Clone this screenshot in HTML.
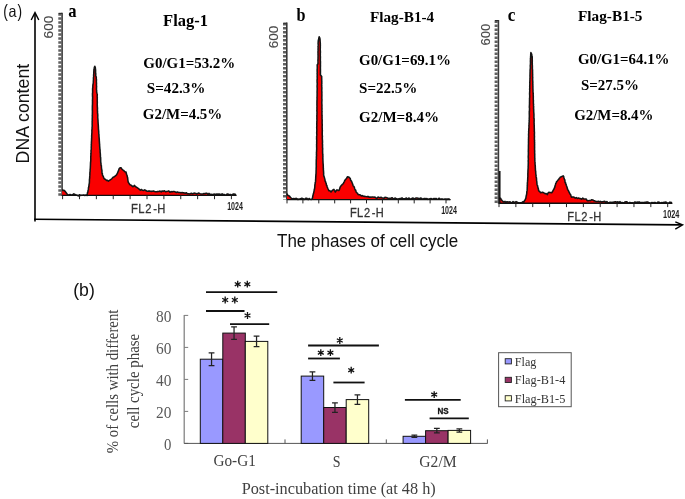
<!DOCTYPE html>
<html><head><meta charset="utf-8"><style>
html,body{margin:0;padding:0;background:#fff;}
svg{display:block;will-change:transform;}
</style></head><body>
<svg width="685" height="499" viewBox="0 0 685 499">
<rect width="685" height="499" fill="#fff"/>
<text font-family="Liberation Sans" fill="#111"><tspan x="3.3" y="17" font-size="18" textLength="4.6" lengthAdjust="spacingAndGlyphs">(</tspan><tspan x="8.6" y="17.4" font-size="16.5" textLength="8" lengthAdjust="spacingAndGlyphs">a</tspan><tspan x="17.6" y="17" font-size="18" textLength="4.6" lengthAdjust="spacingAndGlyphs">)</tspan></text>
<line x1="35" y1="13" x2="35" y2="221.6" stroke="#000" stroke-width="1.6"/>
<polyline points="31.2,20 35,12.6 38.8,20" fill="none" stroke="#000" stroke-width="1.4"/>
<line x1="34.2" y1="219.2" x2="682" y2="224.9" stroke="#000" stroke-width="1.6"/>
<polyline points="675.3,221.8 682.6,224.9 675.3,229.2" fill="none" stroke="#000" stroke-width="1.4"/>
<text transform="translate(29.4,113.6) rotate(-90)" x="0" y="0" text-anchor="middle" font-family="Liberation Sans" font-size="17.5" font-weight="normal" fill="#111" textLength="99.6" lengthAdjust="spacingAndGlyphs" >DNA content</text>
<text x="277" y="247" font-family="Liberation Sans" font-size="17.5" font-weight="normal" fill="#111" textLength="181.3" lengthAdjust="spacingAndGlyphs" >The phases of cell cycle</text>
<line x1="59.800000000000004" y1="13.3" x2="59.800000000000004" y2="195.8" stroke="#606060" stroke-width="3.0" stroke-dasharray="2.50 1.5"/>
<line x1="62.1" y1="12.8" x2="62.1" y2="195.8" stroke="#3a3a3a" stroke-width="1.6"/>
<line x1="58.6" y1="13.4" x2="62.1" y2="13.4" stroke="#2e2e2e" stroke-width="1.2"/>
<text transform="translate(53.3,27.1) rotate(-90)" x="0" y="0" text-anchor="middle" font-family="Liberation Sans" font-size="13.2" font-weight="normal" fill="#4a4a4a" textLength="22.6" lengthAdjust="spacingAndGlyphs" stroke="#4a4a4a" stroke-width="0.15">600</text>
<text x="68.2" y="16.8" font-family="Liberation Serif" font-size="19" font-weight="bold" fill="#000" textLength="8.3" lengthAdjust="spacingAndGlyphs" >a</text>
<text x="163.1" y="26.2" font-family="Liberation Serif" font-size="16.5" font-weight="bold" fill="#000" textLength="44.9" lengthAdjust="spacingAndGlyphs" >Flag-1</text>
<text x="143.3" y="68.3" font-family="Liberation Serif" font-size="14" font-weight="bold" fill="#000" textLength="92" lengthAdjust="spacingAndGlyphs" >G0/G1=53.2%</text>
<text x="146.8" y="93.3" font-family="Liberation Serif" font-size="14" font-weight="bold" fill="#000" textLength="58.6" lengthAdjust="spacingAndGlyphs" >S=42.3%</text>
<text x="142.8" y="119.3" font-family="Liberation Serif" font-size="14" font-weight="bold" fill="#000" textLength="79.5" lengthAdjust="spacingAndGlyphs" >G2/M=4.5%</text>
<path d="M62.00,195.80 L62.20,189.60 L63.02,190.59 L64.06,190.26 L64.90,191.10 L65.80,192.18 L66.70,193.40 L67.88,194.70 L69.00,195.20 L70.08,194.44 L71.40,194.91 L72.50,194.90 L73.71,193.90 L74.80,194.30 L75.99,195.11 L77.20,195.30 L78.24,195.95 L79.48,194.69 L80.40,195.42 L81.69,195.22 L82.64,195.30 L83.70,195.04 L84.89,195.45 L85.94,195.10 L87.10,195.50 L87.26,194.34 L87.50,192.63 L87.83,192.28 L88.01,190.66 L88.20,190.00 L88.45,189.50 L88.42,187.77 L88.70,187.30 L88.89,185.89 L89.02,185.24 L89.06,184.12 L89.33,183.48 L89.40,182.00 L89.46,181.12 L89.42,179.64 L89.65,178.88 L89.58,178.07 L89.75,177.24 L89.74,175.91 L89.83,175.39 L89.89,173.85 L89.95,172.34 L89.92,172.28 L90.17,171.13 L90.11,169.54 L90.19,169.67 L90.31,168.06 L90.39,166.63 L90.38,166.63 L90.46,164.94 L90.50,164.00 L90.50,163.07 L90.69,161.31 L90.70,161.45 L90.76,160.34 L90.79,159.03 L90.79,157.90 L90.73,157.52 L90.88,155.58 L90.91,154.98 L90.93,153.78 L91.01,153.17 L91.07,151.94 L91.00,150.62 L91.07,150.12 L91.26,149.42 L91.30,148.44 L91.23,147.48 L91.36,145.42 L91.27,144.32 L91.47,143.65 L91.38,143.17 L91.48,141.40 L91.48,141.04 L91.60,140.00 L91.57,138.68 L91.72,137.94 L91.68,136.96 L91.66,135.84 L91.78,134.56 L91.76,134.56 L91.88,132.59 L91.94,132.44 L91.86,130.33 L91.93,130.31 L91.97,129.29 L92.12,128.06 L92.06,127.67 L92.22,126.02 L92.20,125.00 L92.15,124.21 L92.20,123.11 L92.20,122.18 L92.16,120.72 L92.36,120.53 L92.23,119.50 L92.24,118.62 L92.35,116.88 L92.26,115.31 L92.40,114.35 L92.40,114.65 L92.36,112.54 L92.43,112.66 L92.41,111.01 L92.35,109.79 L92.33,109.24 L92.39,107.57 L92.33,107.23 L92.39,106.00 L92.40,105.52 L92.54,103.33 L92.40,102.76 L92.58,102.40 L92.45,100.60 L92.50,100.00 L92.54,99.47 L92.61,97.78 L92.61,97.26 L92.53,96.68 L92.49,95.32 L92.46,93.54 L92.64,92.60 L92.62,92.14 L92.65,90.82 L92.55,89.71 L92.67,89.15 L92.60,88.00 L92.85,87.54 L92.82,86.07 L92.97,84.35 L93.20,84.00 L93.16,83.51 L93.36,82.46 L93.32,81.16 L93.46,79.83 L93.46,78.61 L93.41,77.67 L93.63,77.09 L93.69,75.94 L93.60,75.40 L93.77,73.32 L93.79,72.43 L93.80,72.00 L93.84,71.41 L93.95,69.39 L94.28,68.51 L94.30,67.50 L94.80,66.20 L95.30,67.50 L95.37,68.28 L95.60,70.00 L95.58,71.34 L95.58,72.58 L95.67,73.66 L95.82,73.71 L95.71,74.97 L95.80,76.00 L96.30,77.00 L96.24,78.21 L96.24,78.31 L96.46,79.71 L96.40,80.93 L96.36,81.39 L96.51,83.66 L96.54,83.46 L96.40,85.16 L96.58,86.06 L96.54,87.23 L96.47,88.06 L96.50,88.64 L96.47,89.69 L96.68,90.93 L96.60,92.00 L96.93,93.20 L97.20,94.00 L97.31,94.85 L97.18,95.76 L97.20,97.49 L97.33,97.72 L97.23,99.06 L97.29,100.13 L97.23,100.33 L97.25,101.40 L97.32,102.40 L97.24,104.19 L97.29,105.41 L97.35,106.51 L97.29,107.00 L97.44,107.41 L97.48,108.54 L97.40,110.00 L97.51,111.68 L97.57,111.75 L97.47,113.02 L97.69,113.71 L97.73,114.50 L97.79,115.34 L97.71,117.56 L97.80,118.00 L97.92,119.57 L97.99,120.34 L98.02,120.55 L98.03,121.52 L98.15,123.23 L98.11,123.39 L98.32,125.43 L98.29,126.06 L98.41,126.93 L98.40,128.00 L98.45,128.77 L98.49,129.33 L98.65,130.88 L98.70,131.39 L98.73,132.49 L98.75,133.66 L98.97,134.86 L98.96,136.16 L98.99,136.31 L99.13,138.00 L99.23,138.91 L99.31,140.32 L99.28,140.99 L99.41,141.62 L99.46,143.08 L99.64,144.58 L99.58,145.20 L99.70,146.00 L99.68,146.40 L99.85,148.53 L99.85,149.37 L100.07,149.74 L100.10,151.49 L100.11,152.28 L100.26,153.13 L100.35,154.56 L100.45,155.10 L100.35,155.65 L100.44,157.10 L100.62,157.37 L100.68,159.30 L100.68,160.02 L100.71,161.32 L100.76,162.67 L100.99,163.18 L101.00,164.00 L101.08,165.58 L101.35,165.49 L101.44,167.48 L101.54,168.28 L101.62,169.59 L101.86,169.84 L101.95,170.91 L101.95,171.76 L102.07,173.57 L102.37,173.47 L102.40,175.00 L102.95,175.87 L103.37,176.71 L103.92,178.35 L104.50,179.00 L105.40,179.32 L106.50,180.50 L107.44,180.18 L108.40,181.20 L110.00,180.00 L111.03,179.40 L112.00,178.50 L113.07,177.34 L114.00,177.00 L114.79,176.36 L115.62,175.72 L116.50,174.90 L116.90,174.11 L117.46,173.23 L117.95,171.81 L118.30,171.20 L118.81,169.75 L119.20,168.60 L120.08,167.85 L121.00,167.70 L121.82,169.03 L122.72,169.85 L123.70,170.40 L124.86,171.85 L126.00,172.00 L126.38,173.84 L126.57,174.35 L126.99,175.26 L127.30,176.70 L127.48,177.56 L127.67,178.12 L127.83,179.81 L127.98,180.80 L128.20,182.00 L128.86,183.19 L129.40,184.07 L130.00,184.80 L130.87,184.99 L131.70,185.69 L132.70,186.60 L133.52,186.53 L134.30,185.40 L135.22,186.22 L136.00,187.00 L137.17,187.68 L138.20,188.34 L139.20,189.20 L140.35,190.25 L141.36,189.47 L142.50,190.30 L143.63,190.44 L144.67,189.80 L145.78,190.50 L146.88,191.21 L148.02,191.13 L149.10,190.90 L150.28,191.31 L151.30,191.37 L152.43,191.30 L153.53,191.02 L154.63,191.40 L155.79,191.67 L156.87,191.71 L157.90,191.40 L159.05,191.55 L160.04,191.07 L161.21,191.92 L162.26,190.91 L163.41,191.38 L164.42,190.76 L165.51,191.74 L166.60,191.40 L167.68,191.27 L168.83,190.88 L169.90,192.25 L171.04,191.56 L172.14,191.92 L173.14,191.44 L174.38,191.60 L175.40,192.00 L176.41,192.55 L177.60,191.98 L178.70,192.58 L179.73,192.55 L180.94,192.86 L182.00,192.50 L183.04,192.79 L184.12,192.86 L185.19,193.32 L186.43,192.81 L187.38,193.84 L188.57,193.81 L189.51,194.02 L190.70,193.60 L191.76,193.34 L192.75,193.97 L193.86,193.17 L194.86,193.13 L195.97,193.52 L196.99,193.92 L197.96,193.27 L198.97,193.09 L200.00,193.60 L200.92,193.95 L201.97,194.05 L202.95,194.05 L204.05,193.51 L204.92,193.69 L206.00,193.32 L206.93,193.30 L208.02,194.52 L208.94,193.37 L210.04,194.51 L211.10,194.27 L211.97,194.63 L212.92,194.48 L213.91,194.11 L215.00,194.30 L216.00,194.15 L216.93,193.97 L218.07,194.32 L219.02,193.99 L220.05,194.18 L221.02,195.02 L222.10,193.83 L223.06,194.99 L223.96,194.35 L225.02,195.12 L225.98,195.09 L227.05,194.10 L228.09,193.93 L228.93,194.86 L229.91,194.49 L230.92,194.63 L232.07,195.27 L232.90,194.11 L234.07,194.11 L234.95,194.24 L236.00,194.80 L236.20,195.80 Z" fill="#fa0000" stroke="none"/>
<path d="M62.20,189.60 L63.02,190.59 L64.06,190.26 L64.90,191.10 L65.80,192.18 L66.70,193.40 L67.88,194.70 L69.00,195.20 L70.08,194.44 L71.40,194.91 L72.50,194.90 L73.71,193.90 L74.80,194.30 L75.99,195.11 L77.20,195.30 L78.24,195.95 L79.48,194.69 L80.40,195.42 L81.69,195.22 L82.64,195.30 L83.70,195.04 L84.89,195.45 L85.94,195.10 L87.10,195.50 L87.26,194.34 L87.50,192.63 L87.83,192.28 L88.01,190.66 L88.20,190.00 L88.45,189.50 L88.42,187.77 L88.70,187.30 L88.89,185.89 L89.02,185.24 L89.06,184.12 L89.33,183.48 L89.40,182.00 L89.46,181.12 L89.42,179.64 L89.65,178.88 L89.58,178.07 L89.75,177.24 L89.74,175.91 L89.83,175.39 L89.89,173.85 L89.95,172.34 L89.92,172.28 L90.17,171.13 L90.11,169.54 L90.19,169.67 L90.31,168.06 L90.39,166.63 L90.38,166.63 L90.46,164.94 L90.50,164.00 L90.50,163.07 L90.69,161.31 L90.70,161.45 L90.76,160.34 L90.79,159.03 L90.79,157.90 L90.73,157.52 L90.88,155.58 L90.91,154.98 L90.93,153.78 L91.01,153.17 L91.07,151.94 L91.00,150.62 L91.07,150.12 L91.26,149.42 L91.30,148.44 L91.23,147.48 L91.36,145.42 L91.27,144.32 L91.47,143.65 L91.38,143.17 L91.48,141.40 L91.48,141.04 L91.60,140.00 L91.57,138.68 L91.72,137.94 L91.68,136.96 L91.66,135.84 L91.78,134.56 L91.76,134.56 L91.88,132.59 L91.94,132.44 L91.86,130.33 L91.93,130.31 L91.97,129.29 L92.12,128.06 L92.06,127.67 L92.22,126.02 L92.20,125.00 L92.15,124.21 L92.20,123.11 L92.20,122.18 L92.16,120.72 L92.36,120.53 L92.23,119.50 L92.24,118.62 L92.35,116.88 L92.26,115.31 L92.40,114.35 L92.40,114.65 L92.36,112.54 L92.43,112.66 L92.41,111.01 L92.35,109.79 L92.33,109.24 L92.39,107.57 L92.33,107.23 L92.39,106.00 L92.40,105.52 L92.54,103.33 L92.40,102.76 L92.58,102.40 L92.45,100.60 L92.50,100.00 L92.54,99.47 L92.61,97.78 L92.61,97.26 L92.53,96.68 L92.49,95.32 L92.46,93.54 L92.64,92.60 L92.62,92.14 L92.65,90.82 L92.55,89.71 L92.67,89.15 L92.60,88.00 L92.85,87.54 L92.82,86.07 L92.97,84.35 L93.20,84.00 L93.16,83.51 L93.36,82.46 L93.32,81.16 L93.46,79.83 L93.46,78.61 L93.41,77.67 L93.63,77.09 L93.69,75.94 L93.60,75.40 L93.77,73.32 L93.79,72.43 L93.80,72.00 L93.84,71.41 L93.95,69.39 L94.28,68.51 L94.30,67.50 L94.80,66.20 L95.30,67.50 L95.37,68.28 L95.60,70.00 L95.58,71.34 L95.58,72.58 L95.67,73.66 L95.82,73.71 L95.71,74.97 L95.80,76.00 L96.30,77.00 L96.24,78.21 L96.24,78.31 L96.46,79.71 L96.40,80.93 L96.36,81.39 L96.51,83.66 L96.54,83.46 L96.40,85.16 L96.58,86.06 L96.54,87.23 L96.47,88.06 L96.50,88.64 L96.47,89.69 L96.68,90.93 L96.60,92.00 L96.93,93.20 L97.20,94.00 L97.31,94.85 L97.18,95.76 L97.20,97.49 L97.33,97.72 L97.23,99.06 L97.29,100.13 L97.23,100.33 L97.25,101.40 L97.32,102.40 L97.24,104.19 L97.29,105.41 L97.35,106.51 L97.29,107.00 L97.44,107.41 L97.48,108.54 L97.40,110.00 L97.51,111.68 L97.57,111.75 L97.47,113.02 L97.69,113.71 L97.73,114.50 L97.79,115.34 L97.71,117.56 L97.80,118.00 L97.92,119.57 L97.99,120.34 L98.02,120.55 L98.03,121.52 L98.15,123.23 L98.11,123.39 L98.32,125.43 L98.29,126.06 L98.41,126.93 L98.40,128.00 L98.45,128.77 L98.49,129.33 L98.65,130.88 L98.70,131.39 L98.73,132.49 L98.75,133.66 L98.97,134.86 L98.96,136.16 L98.99,136.31 L99.13,138.00 L99.23,138.91 L99.31,140.32 L99.28,140.99 L99.41,141.62 L99.46,143.08 L99.64,144.58 L99.58,145.20 L99.70,146.00 L99.68,146.40 L99.85,148.53 L99.85,149.37 L100.07,149.74 L100.10,151.49 L100.11,152.28 L100.26,153.13 L100.35,154.56 L100.45,155.10 L100.35,155.65 L100.44,157.10 L100.62,157.37 L100.68,159.30 L100.68,160.02 L100.71,161.32 L100.76,162.67 L100.99,163.18 L101.00,164.00 L101.08,165.58 L101.35,165.49 L101.44,167.48 L101.54,168.28 L101.62,169.59 L101.86,169.84 L101.95,170.91 L101.95,171.76 L102.07,173.57 L102.37,173.47 L102.40,175.00 L102.95,175.87 L103.37,176.71 L103.92,178.35 L104.50,179.00 L105.40,179.32 L106.50,180.50 L107.44,180.18 L108.40,181.20 L110.00,180.00 L111.03,179.40 L112.00,178.50 L113.07,177.34 L114.00,177.00 L114.79,176.36 L115.62,175.72 L116.50,174.90 L116.90,174.11 L117.46,173.23 L117.95,171.81 L118.30,171.20 L118.81,169.75 L119.20,168.60 L120.08,167.85 L121.00,167.70 L121.82,169.03 L122.72,169.85 L123.70,170.40 L124.86,171.85 L126.00,172.00 L126.38,173.84 L126.57,174.35 L126.99,175.26 L127.30,176.70 L127.48,177.56 L127.67,178.12 L127.83,179.81 L127.98,180.80 L128.20,182.00 L128.86,183.19 L129.40,184.07 L130.00,184.80 L130.87,184.99 L131.70,185.69 L132.70,186.60 L133.52,186.53 L134.30,185.40 L135.22,186.22 L136.00,187.00 L137.17,187.68 L138.20,188.34 L139.20,189.20 L140.35,190.25 L141.36,189.47 L142.50,190.30 L143.63,190.44 L144.67,189.80 L145.78,190.50 L146.88,191.21 L148.02,191.13 L149.10,190.90 L150.28,191.31 L151.30,191.37 L152.43,191.30 L153.53,191.02 L154.63,191.40 L155.79,191.67 L156.87,191.71 L157.90,191.40 L159.05,191.55 L160.04,191.07 L161.21,191.92 L162.26,190.91 L163.41,191.38 L164.42,190.76 L165.51,191.74 L166.60,191.40 L167.68,191.27 L168.83,190.88 L169.90,192.25 L171.04,191.56 L172.14,191.92 L173.14,191.44 L174.38,191.60 L175.40,192.00 L176.41,192.55 L177.60,191.98 L178.70,192.58 L179.73,192.55 L180.94,192.86 L182.00,192.50 L183.04,192.79 L184.12,192.86 L185.19,193.32 L186.43,192.81 L187.38,193.84 L188.57,193.81 L189.51,194.02 L190.70,193.60 L191.76,193.34 L192.75,193.97 L193.86,193.17 L194.86,193.13 L195.97,193.52 L196.99,193.92 L197.96,193.27 L198.97,193.09 L200.00,193.60 L200.92,193.95 L201.97,194.05 L202.95,194.05 L204.05,193.51 L204.92,193.69 L206.00,193.32 L206.93,193.30 L208.02,194.52 L208.94,193.37 L210.04,194.51 L211.10,194.27 L211.97,194.63 L212.92,194.48 L213.91,194.11 L215.00,194.30 L216.00,194.15 L216.93,193.97 L218.07,194.32 L219.02,193.99 L220.05,194.18 L221.02,195.02 L222.10,193.83 L223.06,194.99 L223.96,194.35 L225.02,195.12 L225.98,195.09 L227.05,194.10 L228.09,193.93 L228.93,194.86 L229.91,194.49 L230.92,194.63 L232.07,195.27 L232.90,194.11 L234.07,194.11 L234.95,194.24 L236.00,194.80" fill="none" stroke="#141414" stroke-width="1.55" stroke-linejoin="round"/>
<line x1="61.6" y1="195.4" x2="236.6" y2="195.4" stroke="#111" stroke-width="1.4"/>
<line x1="62.6" y1="195.4" x2="62.6" y2="199.20000000000002" stroke="#222" stroke-width="1"/>
<line x1="79.48" y1="195.4" x2="79.48" y2="199.20000000000002" stroke="#222" stroke-width="1"/>
<line x1="96.36" y1="195.4" x2="96.36" y2="199.20000000000002" stroke="#222" stroke-width="1"/>
<line x1="113.24000000000001" y1="195.4" x2="113.24000000000001" y2="199.20000000000002" stroke="#222" stroke-width="1"/>
<line x1="130.12" y1="195.4" x2="130.12" y2="199.20000000000002" stroke="#222" stroke-width="1"/>
<line x1="147.0" y1="195.4" x2="147.0" y2="199.20000000000002" stroke="#222" stroke-width="1"/>
<line x1="163.88" y1="195.4" x2="163.88" y2="199.20000000000002" stroke="#222" stroke-width="1"/>
<line x1="180.76" y1="195.4" x2="180.76" y2="199.20000000000002" stroke="#222" stroke-width="1"/>
<line x1="197.64" y1="195.4" x2="197.64" y2="199.20000000000002" stroke="#222" stroke-width="1"/>
<line x1="214.51999999999998" y1="195.4" x2="214.51999999999998" y2="199.20000000000002" stroke="#222" stroke-width="1"/>
<line x1="231.39999999999998" y1="195.4" x2="231.39999999999998" y2="199.20000000000002" stroke="#222" stroke-width="1"/>
<text transform="translate(131.05,213.4) scale(0.85,1)" x="0.00 8.35 16.59 26.00 30.71" y="0" font-family="Liberation Sans" font-size="13.20" fill="#333" stroke="#333" stroke-width="0.3">FL2-H</text>
<text x="227.2" y="209.8" font-family="Liberation Sans" font-size="10" font-weight="bold" fill="#1e1e1e" textLength="15.7" lengthAdjust="spacingAndGlyphs" >1024</text>
<line x1="284.5" y1="23.1" x2="284.5" y2="199.5" stroke="#606060" stroke-width="3.0" stroke-dasharray="2.50 1.5"/>
<line x1="286.8" y1="22.6" x2="286.8" y2="199.5" stroke="#3a3a3a" stroke-width="1.6"/>
<line x1="283.3" y1="23.200000000000003" x2="286.8" y2="23.200000000000003" stroke="#2e2e2e" stroke-width="1.2"/>
<text transform="translate(278.3,37) rotate(-90)" x="0" y="0" text-anchor="middle" font-family="Liberation Sans" font-size="13.2" font-weight="normal" fill="#4a4a4a" textLength="22.4" lengthAdjust="spacingAndGlyphs" stroke="#4a4a4a" stroke-width="0.15">600</text>
<text x="296.5" y="20.5" font-family="Liberation Serif" font-size="19" font-weight="bold" fill="#000" textLength="9" lengthAdjust="spacingAndGlyphs" >b</text>
<text x="369.9" y="21.5" font-family="Liberation Serif" font-size="14.6" font-weight="bold" fill="#000" textLength="64.3" lengthAdjust="spacingAndGlyphs" >Flag-B1-4</text>
<text x="359" y="64.7" font-family="Liberation Serif" font-size="14" font-weight="bold" fill="#000" textLength="92" lengthAdjust="spacingAndGlyphs" >G0/G1=69.1%</text>
<text x="359" y="93.1" font-family="Liberation Serif" font-size="14" font-weight="bold" fill="#000" textLength="58.4" lengthAdjust="spacingAndGlyphs" >S=22.5%</text>
<text x="359" y="122" font-family="Liberation Serif" font-size="14" font-weight="bold" fill="#000" textLength="80" lengthAdjust="spacingAndGlyphs" >G2/M=8.4%</text>
<path d="M287.00,199.50 L287.00,193.70 L287.85,195.38 L288.50,195.80 L289.41,196.07 L290.50,197.50 L291.72,198.43 L292.80,198.70 L293.86,198.46 L294.88,198.91 L295.90,198.31 L296.90,198.67 L297.99,199.54 L299.07,198.93 L300.00,198.90 L301.00,198.58 L301.92,198.24 L303.02,198.65 L304.01,199.45 L305.05,198.98 L305.99,198.23 L307.02,198.39 L308.07,199.60 L309.11,198.45 L310.17,199.32 L311.14,199.47 L312.10,198.90 L312.40,198.30 L312.55,197.55 L312.92,195.40 L313.11,195.16 L313.29,193.89 L313.54,193.43 L313.78,192.29 L313.99,191.36 L314.34,189.76 L314.50,188.80 L314.65,188.29 L314.82,186.58 L314.85,185.25 L315.09,183.93 L315.27,182.98 L315.41,181.93 L315.56,181.39 L315.60,180.00 L315.66,179.02 L315.74,178.12 L315.72,176.59 L315.82,176.61 L315.90,174.41 L315.99,174.32 L316.07,172.57 L316.09,171.38 L316.12,170.68 L316.09,170.53 L316.20,169.00 L316.14,168.03 L316.32,166.64 L316.20,166.53 L316.27,165.30 L316.21,163.81 L316.26,163.24 L316.26,162.64 L316.27,161.32 L316.29,159.66 L316.48,158.52 L316.37,158.27 L316.43,156.36 L316.58,155.51 L316.40,154.78 L316.54,154.34 L316.46,152.77 L316.46,151.93 L316.63,151.34 L316.60,150.00 L316.69,149.36 L316.69,148.29 L316.62,146.62 L316.67,145.74 L316.56,144.93 L316.73,143.48 L316.68,142.85 L316.68,141.50 L316.78,140.66 L316.72,139.89 L316.60,139.08 L316.64,137.38 L316.62,136.53 L316.65,136.19 L316.74,135.68 L316.84,134.69 L316.70,132.92 L316.72,132.13 L316.80,131.42 L316.83,129.66 L316.78,129.04 L316.70,127.35 L316.79,126.46 L316.87,125.64 L316.75,124.55 L316.79,123.60 L316.86,122.95 L316.82,122.20 L316.81,121.57 L316.98,120.32 L316.87,119.02 L316.91,117.37 L316.89,117.04 L316.85,115.43 L316.99,114.81 L316.94,114.59 L316.97,112.71 L317.06,111.82 L316.86,111.26 L316.89,109.73 L317.05,109.24 L316.89,107.93 L317.00,107.00 L316.99,105.98 L316.95,105.12 L316.93,103.70 L317.00,103.61 L316.94,102.36 L316.97,101.10 L317.02,99.95 L317.10,98.85 L316.98,97.47 L316.98,97.49 L317.10,96.64 L317.12,94.33 L317.12,94.39 L317.14,93.00 L317.07,91.94 L317.17,90.68 L317.12,89.97 L317.21,89.43 L317.21,88.47 L317.09,86.62 L317.13,85.66 L317.13,85.25 L317.24,84.12 L317.22,82.43 L317.13,82.70 L317.09,80.88 L317.08,79.42 L317.26,79.68 L317.22,77.48 L317.15,76.62 L317.20,76.00 L317.24,75.25 L317.19,74.03 L317.12,73.06 L317.29,72.36 L317.12,71.02 L317.25,69.66 L317.28,68.95 L317.24,67.87 L317.30,67.40 L317.22,65.50 L317.20,65.00 L318.00,63.60 L317.99,61.87 L318.02,62.00 L317.93,60.41 L318.00,59.20 L318.04,58.88 L318.04,57.16 L318.10,55.90 L318.05,55.29 L318.00,54.00 L318.07,53.49 L317.97,52.17 L318.03,51.23 L318.16,50.19 L317.97,48.95 L318.14,48.54 L318.14,47.44 L318.02,46.62 L318.19,45.15 L318.24,44.54 L318.09,43.44 L318.24,41.58 L318.20,41.00 L318.50,40.07 L318.64,39.33 L318.87,38.01 L319.20,36.80 L319.59,37.56 L320.00,39.00 L320.09,39.95 L320.09,41.65 L320.14,41.30 L320.30,43.00 L320.30,44.47 L320.34,45.36 L320.31,46.24 L320.28,46.67 L320.32,47.34 L320.24,49.36 L320.26,50.35 L320.39,50.87 L320.37,52.40 L320.42,52.49 L320.27,53.83 L320.34,54.71 L320.25,56.08 L320.45,56.81 L320.37,57.84 L320.35,59.52 L320.33,60.21 L320.37,61.05 L320.46,61.41 L320.45,62.73 L320.41,64.41 L320.42,64.85 L320.46,65.43 L320.42,66.85 L320.40,68.00 L320.42,69.49 L320.49,70.18 L320.40,70.63 L320.45,71.62 L320.42,73.64 L320.40,74.45 L320.50,75.00 L321.70,76.50 L321.68,77.33 L321.68,77.94 L321.71,79.08 L321.71,80.28 L321.82,82.17 L321.73,82.80 L321.84,83.37 L321.67,84.27 L321.69,85.90 L321.74,86.47 L321.84,87.31 L321.84,88.89 L321.77,90.17 L321.76,91.26 L321.89,91.75 L321.85,93.39 L321.86,94.13 L321.90,95.41 L321.88,96.49 L321.79,97.00 L321.88,97.66 L321.82,98.41 L321.95,99.68 L321.86,101.45 L321.80,102.56 L321.80,102.27 L321.85,103.75 L321.97,105.50 L321.95,105.89 L321.90,107.00 L321.92,107.63 L322.00,108.85 L321.90,110.19 L321.89,110.74 L322.07,111.43 L321.92,112.59 L321.95,113.89 L321.97,114.78 L321.98,115.64 L322.07,116.77 L322.04,118.37 L321.99,118.50 L322.17,119.90 L322.17,120.49 L322.13,122.48 L322.11,123.38 L322.18,123.85 L322.28,124.85 L322.18,126.17 L322.16,127.47 L322.24,128.12 L322.24,129.68 L322.35,130.48 L322.25,130.88 L322.28,131.36 L322.21,133.69 L322.23,134.61 L322.36,135.58 L322.25,135.73 L322.42,136.31 L322.29,137.79 L322.32,138.51 L322.40,140.00 L322.46,140.43 L322.55,142.21 L322.38,143.56 L322.45,143.97 L322.54,144.49 L322.55,145.38 L322.51,147.59 L322.67,148.03 L322.66,149.53 L322.57,149.99 L322.60,150.46 L322.62,151.60 L322.63,152.60 L322.72,154.17 L322.85,155.57 L322.85,156.01 L322.91,156.53 L322.77,158.44 L322.90,158.59 L322.90,160.00 L322.93,160.73 L323.00,161.92 L323.05,163.45 L323.19,164.14 L323.18,164.76 L323.29,166.76 L323.24,167.37 L323.39,168.32 L323.31,169.18 L323.40,169.70 L323.54,171.34 L323.60,172.49 L323.67,173.13 L323.59,174.56 L323.81,175.66 L323.80,176.20 L324.18,176.65 L324.46,177.85 L324.91,179.56 L325.17,181.24 L325.60,181.70 L326.02,183.32 L326.23,183.53 L326.50,185.33 L326.92,185.63 L327.20,187.00 L327.68,188.02 L327.98,188.73 L328.45,189.71 L328.80,190.70 L329.93,190.82 L331.00,192.00 L332.01,190.78 L333.02,189.80 L333.90,189.30 L334.33,190.25 L334.81,191.14 L335.30,192.00 L336.24,190.48 L337.00,189.80 L338.06,190.42 L339.00,190.50 L339.49,189.35 L339.84,188.13 L340.27,186.93 L340.70,186.20 L341.54,185.27 L342.44,184.36 L343.40,183.50 L343.87,182.33 L344.23,181.85 L344.83,180.41 L345.20,179.90 L345.99,179.06 L346.81,178.02 L347.50,176.70 L348.56,176.89 L349.70,177.90 L350.30,178.59 L350.66,180.35 L351.30,180.80 L351.66,181.66 L352.11,182.71 L352.62,183.95 L353.00,185.30 L353.44,186.09 L353.97,186.43 L354.37,187.48 L354.80,188.90 L355.18,189.95 L355.67,190.09 L356.17,192.18 L356.60,192.50 L357.43,193.23 L358.26,194.55 L359.00,194.70 L360.03,194.72 L361.30,195.90 L362.30,195.60 L363.47,196.22 L364.85,196.39 L366.00,196.60 L367.04,196.73 L367.94,196.40 L368.91,197.13 L370.00,197.00 L370.92,197.25 L371.98,197.07 L373.10,197.09 L373.99,197.15 L374.94,197.01 L376.01,197.92 L376.91,198.18 L378.04,197.02 L379.04,197.58 L380.00,197.80 L381.00,197.28 L382.00,197.90 L383.06,198.02 L384.04,198.27 L384.94,197.31 L386.00,197.49 L386.92,197.80 L388.01,198.24 L389.03,198.73 L389.92,198.23 L390.91,198.42 L391.99,197.72 L392.96,198.48 L393.99,198.91 L394.97,198.10 L396.09,198.51 L396.92,198.79 L397.97,199.06 L399.03,198.89 L400.00,198.50 L401.08,198.52 L402.10,197.85 L402.97,199.00 L403.90,198.77 L405.10,198.84 L406.08,197.96 L407.01,198.71 L407.99,198.45 L409.06,198.10 L409.90,198.71 L411.10,199.05 L412.04,198.31 L413.08,197.96 L413.95,199.02 L415.08,198.48 L416.09,198.08 L417.02,198.03 L417.94,198.21 L418.90,198.52 L420.00,198.35 L421.03,198.04 L422.00,198.71 L422.98,199.26 L423.92,198.59 L424.99,198.52 L426.10,198.81 L427.00,198.63 L427.99,199.36 L429.06,198.94 L429.93,198.87 L430.92,198.54 L431.90,199.04 L433.10,198.96 L434.01,198.42 L434.99,198.73 L435.98,198.47 L436.94,199.15 L438.10,199.25 L439.03,198.15 L439.96,199.30 L441.10,198.89 L442.01,199.10 L442.95,199.14 L443.97,199.34 L444.99,199.09 L446.01,198.92 L446.99,199.51 L448.05,198.77 L449.00,199.45 L450.00,198.90 L450.20,199.80 Z" fill="#fa0000" stroke="none"/>
<path d="M287.00,193.70 L287.85,195.38 L288.50,195.80 L289.41,196.07 L290.50,197.50 L291.72,198.43 L292.80,198.70 L293.86,198.46 L294.88,198.91 L295.90,198.31 L296.90,198.67 L297.99,199.54 L299.07,198.93 L300.00,198.90 L301.00,198.58 L301.92,198.24 L303.02,198.65 L304.01,199.45 L305.05,198.98 L305.99,198.23 L307.02,198.39 L308.07,199.60 L309.11,198.45 L310.17,199.32 L311.14,199.47 L312.10,198.90 L312.40,198.30 L312.55,197.55 L312.92,195.40 L313.11,195.16 L313.29,193.89 L313.54,193.43 L313.78,192.29 L313.99,191.36 L314.34,189.76 L314.50,188.80 L314.65,188.29 L314.82,186.58 L314.85,185.25 L315.09,183.93 L315.27,182.98 L315.41,181.93 L315.56,181.39 L315.60,180.00 L315.66,179.02 L315.74,178.12 L315.72,176.59 L315.82,176.61 L315.90,174.41 L315.99,174.32 L316.07,172.57 L316.09,171.38 L316.12,170.68 L316.09,170.53 L316.20,169.00 L316.14,168.03 L316.32,166.64 L316.20,166.53 L316.27,165.30 L316.21,163.81 L316.26,163.24 L316.26,162.64 L316.27,161.32 L316.29,159.66 L316.48,158.52 L316.37,158.27 L316.43,156.36 L316.58,155.51 L316.40,154.78 L316.54,154.34 L316.46,152.77 L316.46,151.93 L316.63,151.34 L316.60,150.00 L316.69,149.36 L316.69,148.29 L316.62,146.62 L316.67,145.74 L316.56,144.93 L316.73,143.48 L316.68,142.85 L316.68,141.50 L316.78,140.66 L316.72,139.89 L316.60,139.08 L316.64,137.38 L316.62,136.53 L316.65,136.19 L316.74,135.68 L316.84,134.69 L316.70,132.92 L316.72,132.13 L316.80,131.42 L316.83,129.66 L316.78,129.04 L316.70,127.35 L316.79,126.46 L316.87,125.64 L316.75,124.55 L316.79,123.60 L316.86,122.95 L316.82,122.20 L316.81,121.57 L316.98,120.32 L316.87,119.02 L316.91,117.37 L316.89,117.04 L316.85,115.43 L316.99,114.81 L316.94,114.59 L316.97,112.71 L317.06,111.82 L316.86,111.26 L316.89,109.73 L317.05,109.24 L316.89,107.93 L317.00,107.00 L316.99,105.98 L316.95,105.12 L316.93,103.70 L317.00,103.61 L316.94,102.36 L316.97,101.10 L317.02,99.95 L317.10,98.85 L316.98,97.47 L316.98,97.49 L317.10,96.64 L317.12,94.33 L317.12,94.39 L317.14,93.00 L317.07,91.94 L317.17,90.68 L317.12,89.97 L317.21,89.43 L317.21,88.47 L317.09,86.62 L317.13,85.66 L317.13,85.25 L317.24,84.12 L317.22,82.43 L317.13,82.70 L317.09,80.88 L317.08,79.42 L317.26,79.68 L317.22,77.48 L317.15,76.62 L317.20,76.00 L317.24,75.25 L317.19,74.03 L317.12,73.06 L317.29,72.36 L317.12,71.02 L317.25,69.66 L317.28,68.95 L317.24,67.87 L317.30,67.40 L317.22,65.50 L317.20,65.00 L318.00,63.60 L317.99,61.87 L318.02,62.00 L317.93,60.41 L318.00,59.20 L318.04,58.88 L318.04,57.16 L318.10,55.90 L318.05,55.29 L318.00,54.00 L318.07,53.49 L317.97,52.17 L318.03,51.23 L318.16,50.19 L317.97,48.95 L318.14,48.54 L318.14,47.44 L318.02,46.62 L318.19,45.15 L318.24,44.54 L318.09,43.44 L318.24,41.58 L318.20,41.00 L318.50,40.07 L318.64,39.33 L318.87,38.01 L319.20,36.80 L319.59,37.56 L320.00,39.00 L320.09,39.95 L320.09,41.65 L320.14,41.30 L320.30,43.00 L320.30,44.47 L320.34,45.36 L320.31,46.24 L320.28,46.67 L320.32,47.34 L320.24,49.36 L320.26,50.35 L320.39,50.87 L320.37,52.40 L320.42,52.49 L320.27,53.83 L320.34,54.71 L320.25,56.08 L320.45,56.81 L320.37,57.84 L320.35,59.52 L320.33,60.21 L320.37,61.05 L320.46,61.41 L320.45,62.73 L320.41,64.41 L320.42,64.85 L320.46,65.43 L320.42,66.85 L320.40,68.00 L320.42,69.49 L320.49,70.18 L320.40,70.63 L320.45,71.62 L320.42,73.64 L320.40,74.45 L320.50,75.00 L321.70,76.50 L321.68,77.33 L321.68,77.94 L321.71,79.08 L321.71,80.28 L321.82,82.17 L321.73,82.80 L321.84,83.37 L321.67,84.27 L321.69,85.90 L321.74,86.47 L321.84,87.31 L321.84,88.89 L321.77,90.17 L321.76,91.26 L321.89,91.75 L321.85,93.39 L321.86,94.13 L321.90,95.41 L321.88,96.49 L321.79,97.00 L321.88,97.66 L321.82,98.41 L321.95,99.68 L321.86,101.45 L321.80,102.56 L321.80,102.27 L321.85,103.75 L321.97,105.50 L321.95,105.89 L321.90,107.00 L321.92,107.63 L322.00,108.85 L321.90,110.19 L321.89,110.74 L322.07,111.43 L321.92,112.59 L321.95,113.89 L321.97,114.78 L321.98,115.64 L322.07,116.77 L322.04,118.37 L321.99,118.50 L322.17,119.90 L322.17,120.49 L322.13,122.48 L322.11,123.38 L322.18,123.85 L322.28,124.85 L322.18,126.17 L322.16,127.47 L322.24,128.12 L322.24,129.68 L322.35,130.48 L322.25,130.88 L322.28,131.36 L322.21,133.69 L322.23,134.61 L322.36,135.58 L322.25,135.73 L322.42,136.31 L322.29,137.79 L322.32,138.51 L322.40,140.00 L322.46,140.43 L322.55,142.21 L322.38,143.56 L322.45,143.97 L322.54,144.49 L322.55,145.38 L322.51,147.59 L322.67,148.03 L322.66,149.53 L322.57,149.99 L322.60,150.46 L322.62,151.60 L322.63,152.60 L322.72,154.17 L322.85,155.57 L322.85,156.01 L322.91,156.53 L322.77,158.44 L322.90,158.59 L322.90,160.00 L322.93,160.73 L323.00,161.92 L323.05,163.45 L323.19,164.14 L323.18,164.76 L323.29,166.76 L323.24,167.37 L323.39,168.32 L323.31,169.18 L323.40,169.70 L323.54,171.34 L323.60,172.49 L323.67,173.13 L323.59,174.56 L323.81,175.66 L323.80,176.20 L324.18,176.65 L324.46,177.85 L324.91,179.56 L325.17,181.24 L325.60,181.70 L326.02,183.32 L326.23,183.53 L326.50,185.33 L326.92,185.63 L327.20,187.00 L327.68,188.02 L327.98,188.73 L328.45,189.71 L328.80,190.70 L329.93,190.82 L331.00,192.00 L332.01,190.78 L333.02,189.80 L333.90,189.30 L334.33,190.25 L334.81,191.14 L335.30,192.00 L336.24,190.48 L337.00,189.80 L338.06,190.42 L339.00,190.50 L339.49,189.35 L339.84,188.13 L340.27,186.93 L340.70,186.20 L341.54,185.27 L342.44,184.36 L343.40,183.50 L343.87,182.33 L344.23,181.85 L344.83,180.41 L345.20,179.90 L345.99,179.06 L346.81,178.02 L347.50,176.70 L348.56,176.89 L349.70,177.90 L350.30,178.59 L350.66,180.35 L351.30,180.80 L351.66,181.66 L352.11,182.71 L352.62,183.95 L353.00,185.30 L353.44,186.09 L353.97,186.43 L354.37,187.48 L354.80,188.90 L355.18,189.95 L355.67,190.09 L356.17,192.18 L356.60,192.50 L357.43,193.23 L358.26,194.55 L359.00,194.70 L360.03,194.72 L361.30,195.90 L362.30,195.60 L363.47,196.22 L364.85,196.39 L366.00,196.60 L367.04,196.73 L367.94,196.40 L368.91,197.13 L370.00,197.00 L370.92,197.25 L371.98,197.07 L373.10,197.09 L373.99,197.15 L374.94,197.01 L376.01,197.92 L376.91,198.18 L378.04,197.02 L379.04,197.58 L380.00,197.80 L381.00,197.28 L382.00,197.90 L383.06,198.02 L384.04,198.27 L384.94,197.31 L386.00,197.49 L386.92,197.80 L388.01,198.24 L389.03,198.73 L389.92,198.23 L390.91,198.42 L391.99,197.72 L392.96,198.48 L393.99,198.91 L394.97,198.10 L396.09,198.51 L396.92,198.79 L397.97,199.06 L399.03,198.89 L400.00,198.50 L401.08,198.52 L402.10,197.85 L402.97,199.00 L403.90,198.77 L405.10,198.84 L406.08,197.96 L407.01,198.71 L407.99,198.45 L409.06,198.10 L409.90,198.71 L411.10,199.05 L412.04,198.31 L413.08,197.96 L413.95,199.02 L415.08,198.48 L416.09,198.08 L417.02,198.03 L417.94,198.21 L418.90,198.52 L420.00,198.35 L421.03,198.04 L422.00,198.71 L422.98,199.26 L423.92,198.59 L424.99,198.52 L426.10,198.81 L427.00,198.63 L427.99,199.36 L429.06,198.94 L429.93,198.87 L430.92,198.54 L431.90,199.04 L433.10,198.96 L434.01,198.42 L434.99,198.73 L435.98,198.47 L436.94,199.15 L438.10,199.25 L439.03,198.15 L439.96,199.30 L441.10,198.89 L442.01,199.10 L442.95,199.14 L443.97,199.34 L444.99,199.09 L446.01,198.92 L446.99,199.51 L448.05,198.77 L449.00,199.45 L450.00,198.90" fill="none" stroke="#141414" stroke-width="1.55" stroke-linejoin="round"/>
<line x1="286.6" y1="199.6" x2="450.6" y2="199.6" stroke="#111" stroke-width="1.4"/>
<line x1="287.0" y1="199.6" x2="287.0" y2="203.4" stroke="#222" stroke-width="1"/>
<line x1="302.9" y1="199.6" x2="302.9" y2="203.4" stroke="#222" stroke-width="1"/>
<line x1="318.8" y1="199.6" x2="318.8" y2="203.4" stroke="#222" stroke-width="1"/>
<line x1="334.7" y1="199.6" x2="334.7" y2="203.4" stroke="#222" stroke-width="1"/>
<line x1="350.6" y1="199.6" x2="350.6" y2="203.4" stroke="#222" stroke-width="1"/>
<line x1="366.5" y1="199.6" x2="366.5" y2="203.4" stroke="#222" stroke-width="1"/>
<line x1="382.4" y1="199.6" x2="382.4" y2="203.4" stroke="#222" stroke-width="1"/>
<line x1="398.3" y1="199.6" x2="398.3" y2="203.4" stroke="#222" stroke-width="1"/>
<line x1="414.2" y1="199.6" x2="414.2" y2="203.4" stroke="#222" stroke-width="1"/>
<line x1="430.1" y1="199.6" x2="430.1" y2="203.4" stroke="#222" stroke-width="1"/>
<line x1="446.0" y1="199.6" x2="446.0" y2="203.4" stroke="#222" stroke-width="1"/>
<text transform="translate(350.05,217.2) scale(0.85,1)" x="0.00 8.23 16.35 25.62 30.25" y="0" font-family="Liberation Sans" font-size="13.00" fill="#333" stroke="#333" stroke-width="0.3">FL2-H</text>
<text x="441.2" y="213.8" font-family="Liberation Sans" font-size="10" font-weight="bold" fill="#1e1e1e" textLength="15.7" lengthAdjust="spacingAndGlyphs" >1024</text>
<line x1="496.09999999999997" y1="20.5" x2="496.09999999999997" y2="203.4" stroke="#606060" stroke-width="3.0" stroke-dasharray="2.50 1.5"/>
<line x1="498.4" y1="20" x2="498.4" y2="203.4" stroke="#3a3a3a" stroke-width="1.6"/>
<line x1="494.9" y1="20.6" x2="498.4" y2="20.6" stroke="#2e2e2e" stroke-width="1.2"/>
<text transform="translate(490,34.6) rotate(-90)" x="0" y="0" text-anchor="middle" font-family="Liberation Sans" font-size="13.2" font-weight="normal" fill="#4a4a4a" textLength="21.9" lengthAdjust="spacingAndGlyphs" stroke="#4a4a4a" stroke-width="0.15">600</text>
<text x="507.8" y="20.5" font-family="Liberation Serif" font-size="19" font-weight="bold" fill="#000" textLength="7.6" lengthAdjust="spacingAndGlyphs" >c</text>
<text x="578" y="20.9" font-family="Liberation Serif" font-size="15.4" font-weight="bold" fill="#000" textLength="64.5" lengthAdjust="spacingAndGlyphs" >Flag-B1-5</text>
<text x="577.9" y="64.1" font-family="Liberation Serif" font-size="14" font-weight="bold" fill="#000" textLength="91.6" lengthAdjust="spacingAndGlyphs" >G0/G1=64.1%</text>
<text x="581" y="90.2" font-family="Liberation Serif" font-size="14" font-weight="bold" fill="#000" textLength="57.8" lengthAdjust="spacingAndGlyphs" >S=27.5%</text>
<text x="574.2" y="120" font-family="Liberation Serif" font-size="14" font-weight="bold" fill="#000" textLength="79.2" lengthAdjust="spacingAndGlyphs" >G2/M=8.4%</text>
<path d="M499.00,203.30 L499.00,198.00 L500.50,198.20 L501.19,199.41 L502.00,200.50 L502.97,201.40 L504.00,202.00 L505.03,201.42 L505.90,202.53 L506.95,201.71 L508.10,202.07 L509.07,202.10 L510.03,201.67 L511.03,202.71 L512.00,202.56 L513.04,201.64 L514.05,202.40 L515.00,202.30 L516.06,201.64 L517.28,202.26 L518.35,202.83 L519.44,202.89 L520.48,202.72 L521.59,202.91 L522.78,201.74 L523.80,202.30 L524.22,200.95 L524.90,200.31 L525.33,199.17 L525.80,198.50 L525.97,197.24 L526.11,196.42 L526.33,195.77 L526.52,194.70 L526.73,193.69 L526.86,191.43 L527.00,190.80 L527.14,190.40 L527.21,188.79 L527.24,187.23 L527.32,186.68 L527.27,184.92 L527.46,185.16 L527.36,183.84 L527.49,181.87 L527.53,181.69 L527.71,179.62 L527.70,179.20 L527.76,177.53 L527.82,176.90 L527.90,176.78 L527.85,175.77 L527.85,173.45 L527.95,172.36 L527.91,171.86 L528.03,170.47 L527.95,170.44 L528.05,169.53 L528.21,167.69 L528.15,166.86 L528.20,165.80 L528.24,164.91 L528.24,163.92 L528.33,162.73 L528.24,162.01 L528.21,160.39 L528.38,159.67 L528.30,157.94 L528.29,157.71 L528.22,156.73 L528.36,154.93 L528.37,154.47 L528.39,153.28 L528.41,152.80 L528.28,150.82 L528.43,151.06 L528.35,149.33 L528.44,148.11 L528.40,147.07 L528.42,146.44 L528.42,145.11 L528.53,143.60 L528.50,143.56 L528.46,141.82 L528.57,140.81 L528.46,140.06 L528.58,138.57 L528.51,137.87 L528.63,136.99 L528.65,135.59 L528.55,135.24 L528.60,134.00 L528.73,132.93 L528.63,131.47 L528.74,130.57 L528.85,130.47 L528.76,128.69 L528.94,128.20 L528.99,126.78 L528.89,125.71 L529.08,124.68 L529.03,123.88 L529.09,122.87 L529.24,121.52 L529.20,121.00 L529.11,120.62 L529.31,119.68 L529.24,118.63 L529.36,116.61 L529.34,116.47 L529.34,115.03 L529.28,113.78 L529.28,112.40 L529.38,111.70 L529.44,110.36 L529.48,110.27 L529.50,109.56 L529.51,108.11 L529.34,107.34 L529.39,105.72 L529.51,105.03 L529.48,104.61 L529.54,102.78 L529.48,102.51 L529.54,101.40 L529.53,99.58 L529.59,99.44 L529.53,98.41 L529.71,97.43 L529.70,95.31 L529.68,95.51 L529.58,93.68 L529.64,93.04 L529.69,91.96 L529.78,90.30 L529.65,89.48 L529.68,88.40 L529.87,88.50 L529.70,87.00 L529.77,85.74 L529.79,85.21 L529.86,83.81 L529.80,82.76 L529.80,82.08 L529.94,80.83 L529.82,79.55 L529.90,79.15 L530.01,77.83 L530.03,77.17 L529.97,75.82 L530.00,75.00 L530.03,74.28 L530.05,73.27 L530.09,71.64 L530.14,71.27 L530.08,69.89 L530.18,69.53 L530.32,67.82 L530.35,67.41 L530.25,65.95 L530.25,65.44 L530.40,64.54 L530.46,63.23 L530.48,62.09 L530.38,61.12 L530.50,60.00 L530.45,58.44 L530.67,57.25 L530.59,56.27 L530.81,55.32 L530.69,55.19 L530.76,54.14 L530.90,52.60 L531.60,54.00 L531.89,55.47 L532.10,56.00 L532.22,57.11 L532.22,57.35 L532.24,59.02 L532.25,59.45 L532.28,61.61 L532.17,61.75 L532.30,63.46 L532.26,63.55 L532.29,65.16 L532.42,65.85 L532.36,66.86 L532.39,67.89 L532.36,69.00 L532.57,69.88 L532.55,70.52 L532.56,72.36 L532.59,73.02 L532.57,74.20 L532.69,74.51 L532.54,76.35 L532.74,77.02 L532.67,78.31 L532.64,78.67 L532.67,80.12 L532.72,80.63 L532.83,82.63 L532.77,83.29 L532.82,84.50 L532.89,84.67 L532.83,85.33 L532.92,86.84 L532.88,87.80 L532.94,89.38 L533.00,90.00 L532.96,91.69 L533.07,92.14 L533.10,93.47 L533.21,94.08 L533.18,95.31 L533.29,95.86 L533.30,97.64 L533.28,97.62 L533.27,99.30 L533.40,100.64 L533.47,100.64 L533.37,101.66 L533.40,103.29 L533.58,104.56 L533.49,105.51 L533.54,105.89 L533.66,106.42 L533.56,108.47 L533.64,108.80 L533.74,110.25 L533.65,110.77 L533.78,111.98 L533.77,113.12 L533.96,113.85 L533.90,115.00 L533.94,115.47 L533.91,117.23 L533.90,118.54 L534.09,118.44 L534.12,119.82 L534.12,121.36 L534.04,122.25 L534.14,123.43 L534.09,124.36 L534.26,125.24 L534.20,125.46 L534.21,126.79 L534.29,128.25 L534.28,128.55 L534.33,130.18 L534.25,131.55 L534.38,131.47 L534.46,132.50 L534.40,134.00 L534.38,135.31 L534.45,136.08 L534.48,136.94 L534.42,137.55 L534.39,139.30 L534.55,140.06 L534.56,140.80 L534.47,141.84 L534.62,142.36 L534.55,143.65 L534.63,144.80 L534.55,145.86 L534.61,147.38 L534.58,148.49 L534.55,148.68 L534.56,149.46 L534.72,151.32 L534.61,151.56 L534.67,153.34 L534.77,154.35 L534.74,154.51 L534.72,155.57 L534.76,157.10 L534.71,157.65 L534.84,158.34 L534.80,160.00 L534.94,161.65 L535.04,162.04 L535.03,163.42 L535.11,165.07 L535.20,165.22 L535.30,166.58 L535.30,167.70 L535.42,169.08 L535.40,170.21 L535.63,170.89 L535.70,171.91 L535.74,173.07 L535.80,174.10 L536.03,175.09 L536.11,176.88 L536.20,177.30 L536.43,177.89 L536.55,179.67 L536.53,180.40 L536.72,181.11 L536.92,183.40 L537.02,184.42 L537.20,185.00 L537.51,185.45 L537.81,187.07 L538.09,188.20 L538.32,188.65 L538.60,190.44 L538.80,190.80 L539.83,191.66 L540.70,192.70 L542.60,192.20 L543.85,192.93 L545.00,193.70 L546.12,193.51 L547.40,194.60 L548.01,192.98 L548.80,192.20 L550.18,192.45 L551.70,192.70 L552.34,191.78 L552.88,190.96 L553.46,189.73 L554.10,188.80 L554.47,187.71 L554.67,187.46 L555.10,185.76 L555.34,185.04 L555.70,183.66 L556.00,183.10 L556.52,181.84 L557.31,180.90 L557.87,180.12 L558.50,179.70 L559.14,178.51 L559.88,177.79 L560.50,176.98 L561.30,176.80 L562.23,176.34 L563.30,175.90 L563.57,176.33 L564.02,177.97 L564.40,179.20 L564.72,179.53 L564.94,180.98 L565.14,182.73 L565.46,182.47 L565.80,184.00 L566.11,184.50 L566.46,185.72 L566.67,186.27 L567.11,187.55 L567.44,188.78 L567.70,189.80 L568.39,190.60 L568.85,191.62 L569.57,193.21 L570.10,194.10 L570.63,194.60 L571.27,196.89 L571.80,197.30 L572.99,196.87 L574.03,197.26 L575.30,198.10 L576.27,197.55 L577.29,198.52 L578.50,197.98 L579.56,198.47 L580.50,198.60 L581.66,199.28 L582.79,198.15 L583.76,199.05 L584.90,199.00 L586.16,199.02 L587.19,200.69 L588.40,200.80 L589.42,200.42 L590.57,200.60 L591.79,199.67 L592.80,199.90 L594.02,200.79 L595.20,201.11 L596.30,201.60 L597.44,201.46 L598.39,201.33 L599.52,201.73 L600.47,201.35 L601.62,202.02 L602.67,201.76 L603.67,201.49 L604.78,201.36 L605.78,202.45 L606.88,201.57 L607.84,202.67 L608.98,202.78 L610.00,202.30 L611.08,202.24 L612.08,202.64 L612.97,202.14 L613.91,202.19 L615.10,201.78 L616.01,201.79 L616.91,202.56 L617.95,201.72 L618.93,202.56 L620.02,201.68 L620.94,203.03 L621.94,202.47 L622.98,202.78 L624.02,202.80 L625.01,201.96 L625.93,201.82 L627.07,201.87 L627.90,203.07 L628.94,202.98 L629.91,202.38 L630.94,202.90 L632.02,202.65 L633.05,202.97 L633.97,202.60 L634.99,201.92 L636.07,202.61 L637.07,202.07 L638.01,202.44 L639.05,201.90 L640.00,202.50 L640.97,202.48 L641.91,202.58 L643.05,202.40 L644.03,202.66 L644.94,202.31 L646.10,202.29 L646.99,201.94 L647.94,202.06 L649.09,202.85 L650.08,203.21 L651.02,203.14 L652.01,202.42 L653.09,203.10 L654.09,202.52 L655.06,202.42 L656.10,203.14 L656.96,203.16 L657.93,201.99 L659.05,202.27 L660.00,202.76 L660.90,202.91 L661.95,202.47 L662.97,202.91 L664.05,202.28 L664.92,202.30 L665.98,201.99 L666.93,202.95 L668.04,203.25 L669.10,203.12 L669.97,202.12 L670.96,202.55 L672.00,202.60 L672.20,203.30 Z" fill="#fa0000" stroke="none"/>
<path d="M499.00,198.00 L500.50,198.20 L501.19,199.41 L502.00,200.50 L502.97,201.40 L504.00,202.00 L505.03,201.42 L505.90,202.53 L506.95,201.71 L508.10,202.07 L509.07,202.10 L510.03,201.67 L511.03,202.71 L512.00,202.56 L513.04,201.64 L514.05,202.40 L515.00,202.30 L516.06,201.64 L517.28,202.26 L518.35,202.83 L519.44,202.89 L520.48,202.72 L521.59,202.91 L522.78,201.74 L523.80,202.30 L524.22,200.95 L524.90,200.31 L525.33,199.17 L525.80,198.50 L525.97,197.24 L526.11,196.42 L526.33,195.77 L526.52,194.70 L526.73,193.69 L526.86,191.43 L527.00,190.80 L527.14,190.40 L527.21,188.79 L527.24,187.23 L527.32,186.68 L527.27,184.92 L527.46,185.16 L527.36,183.84 L527.49,181.87 L527.53,181.69 L527.71,179.62 L527.70,179.20 L527.76,177.53 L527.82,176.90 L527.90,176.78 L527.85,175.77 L527.85,173.45 L527.95,172.36 L527.91,171.86 L528.03,170.47 L527.95,170.44 L528.05,169.53 L528.21,167.69 L528.15,166.86 L528.20,165.80 L528.24,164.91 L528.24,163.92 L528.33,162.73 L528.24,162.01 L528.21,160.39 L528.38,159.67 L528.30,157.94 L528.29,157.71 L528.22,156.73 L528.36,154.93 L528.37,154.47 L528.39,153.28 L528.41,152.80 L528.28,150.82 L528.43,151.06 L528.35,149.33 L528.44,148.11 L528.40,147.07 L528.42,146.44 L528.42,145.11 L528.53,143.60 L528.50,143.56 L528.46,141.82 L528.57,140.81 L528.46,140.06 L528.58,138.57 L528.51,137.87 L528.63,136.99 L528.65,135.59 L528.55,135.24 L528.60,134.00 L528.73,132.93 L528.63,131.47 L528.74,130.57 L528.85,130.47 L528.76,128.69 L528.94,128.20 L528.99,126.78 L528.89,125.71 L529.08,124.68 L529.03,123.88 L529.09,122.87 L529.24,121.52 L529.20,121.00 L529.11,120.62 L529.31,119.68 L529.24,118.63 L529.36,116.61 L529.34,116.47 L529.34,115.03 L529.28,113.78 L529.28,112.40 L529.38,111.70 L529.44,110.36 L529.48,110.27 L529.50,109.56 L529.51,108.11 L529.34,107.34 L529.39,105.72 L529.51,105.03 L529.48,104.61 L529.54,102.78 L529.48,102.51 L529.54,101.40 L529.53,99.58 L529.59,99.44 L529.53,98.41 L529.71,97.43 L529.70,95.31 L529.68,95.51 L529.58,93.68 L529.64,93.04 L529.69,91.96 L529.78,90.30 L529.65,89.48 L529.68,88.40 L529.87,88.50 L529.70,87.00 L529.77,85.74 L529.79,85.21 L529.86,83.81 L529.80,82.76 L529.80,82.08 L529.94,80.83 L529.82,79.55 L529.90,79.15 L530.01,77.83 L530.03,77.17 L529.97,75.82 L530.00,75.00 L530.03,74.28 L530.05,73.27 L530.09,71.64 L530.14,71.27 L530.08,69.89 L530.18,69.53 L530.32,67.82 L530.35,67.41 L530.25,65.95 L530.25,65.44 L530.40,64.54 L530.46,63.23 L530.48,62.09 L530.38,61.12 L530.50,60.00 L530.45,58.44 L530.67,57.25 L530.59,56.27 L530.81,55.32 L530.69,55.19 L530.76,54.14 L530.90,52.60 L531.60,54.00 L531.89,55.47 L532.10,56.00 L532.22,57.11 L532.22,57.35 L532.24,59.02 L532.25,59.45 L532.28,61.61 L532.17,61.75 L532.30,63.46 L532.26,63.55 L532.29,65.16 L532.42,65.85 L532.36,66.86 L532.39,67.89 L532.36,69.00 L532.57,69.88 L532.55,70.52 L532.56,72.36 L532.59,73.02 L532.57,74.20 L532.69,74.51 L532.54,76.35 L532.74,77.02 L532.67,78.31 L532.64,78.67 L532.67,80.12 L532.72,80.63 L532.83,82.63 L532.77,83.29 L532.82,84.50 L532.89,84.67 L532.83,85.33 L532.92,86.84 L532.88,87.80 L532.94,89.38 L533.00,90.00 L532.96,91.69 L533.07,92.14 L533.10,93.47 L533.21,94.08 L533.18,95.31 L533.29,95.86 L533.30,97.64 L533.28,97.62 L533.27,99.30 L533.40,100.64 L533.47,100.64 L533.37,101.66 L533.40,103.29 L533.58,104.56 L533.49,105.51 L533.54,105.89 L533.66,106.42 L533.56,108.47 L533.64,108.80 L533.74,110.25 L533.65,110.77 L533.78,111.98 L533.77,113.12 L533.96,113.85 L533.90,115.00 L533.94,115.47 L533.91,117.23 L533.90,118.54 L534.09,118.44 L534.12,119.82 L534.12,121.36 L534.04,122.25 L534.14,123.43 L534.09,124.36 L534.26,125.24 L534.20,125.46 L534.21,126.79 L534.29,128.25 L534.28,128.55 L534.33,130.18 L534.25,131.55 L534.38,131.47 L534.46,132.50 L534.40,134.00 L534.38,135.31 L534.45,136.08 L534.48,136.94 L534.42,137.55 L534.39,139.30 L534.55,140.06 L534.56,140.80 L534.47,141.84 L534.62,142.36 L534.55,143.65 L534.63,144.80 L534.55,145.86 L534.61,147.38 L534.58,148.49 L534.55,148.68 L534.56,149.46 L534.72,151.32 L534.61,151.56 L534.67,153.34 L534.77,154.35 L534.74,154.51 L534.72,155.57 L534.76,157.10 L534.71,157.65 L534.84,158.34 L534.80,160.00 L534.94,161.65 L535.04,162.04 L535.03,163.42 L535.11,165.07 L535.20,165.22 L535.30,166.58 L535.30,167.70 L535.42,169.08 L535.40,170.21 L535.63,170.89 L535.70,171.91 L535.74,173.07 L535.80,174.10 L536.03,175.09 L536.11,176.88 L536.20,177.30 L536.43,177.89 L536.55,179.67 L536.53,180.40 L536.72,181.11 L536.92,183.40 L537.02,184.42 L537.20,185.00 L537.51,185.45 L537.81,187.07 L538.09,188.20 L538.32,188.65 L538.60,190.44 L538.80,190.80 L539.83,191.66 L540.70,192.70 L542.60,192.20 L543.85,192.93 L545.00,193.70 L546.12,193.51 L547.40,194.60 L548.01,192.98 L548.80,192.20 L550.18,192.45 L551.70,192.70 L552.34,191.78 L552.88,190.96 L553.46,189.73 L554.10,188.80 L554.47,187.71 L554.67,187.46 L555.10,185.76 L555.34,185.04 L555.70,183.66 L556.00,183.10 L556.52,181.84 L557.31,180.90 L557.87,180.12 L558.50,179.70 L559.14,178.51 L559.88,177.79 L560.50,176.98 L561.30,176.80 L562.23,176.34 L563.30,175.90 L563.57,176.33 L564.02,177.97 L564.40,179.20 L564.72,179.53 L564.94,180.98 L565.14,182.73 L565.46,182.47 L565.80,184.00 L566.11,184.50 L566.46,185.72 L566.67,186.27 L567.11,187.55 L567.44,188.78 L567.70,189.80 L568.39,190.60 L568.85,191.62 L569.57,193.21 L570.10,194.10 L570.63,194.60 L571.27,196.89 L571.80,197.30 L572.99,196.87 L574.03,197.26 L575.30,198.10 L576.27,197.55 L577.29,198.52 L578.50,197.98 L579.56,198.47 L580.50,198.60 L581.66,199.28 L582.79,198.15 L583.76,199.05 L584.90,199.00 L586.16,199.02 L587.19,200.69 L588.40,200.80 L589.42,200.42 L590.57,200.60 L591.79,199.67 L592.80,199.90 L594.02,200.79 L595.20,201.11 L596.30,201.60 L597.44,201.46 L598.39,201.33 L599.52,201.73 L600.47,201.35 L601.62,202.02 L602.67,201.76 L603.67,201.49 L604.78,201.36 L605.78,202.45 L606.88,201.57 L607.84,202.67 L608.98,202.78 L610.00,202.30 L611.08,202.24 L612.08,202.64 L612.97,202.14 L613.91,202.19 L615.10,201.78 L616.01,201.79 L616.91,202.56 L617.95,201.72 L618.93,202.56 L620.02,201.68 L620.94,203.03 L621.94,202.47 L622.98,202.78 L624.02,202.80 L625.01,201.96 L625.93,201.82 L627.07,201.87 L627.90,203.07 L628.94,202.98 L629.91,202.38 L630.94,202.90 L632.02,202.65 L633.05,202.97 L633.97,202.60 L634.99,201.92 L636.07,202.61 L637.07,202.07 L638.01,202.44 L639.05,201.90 L640.00,202.50 L640.97,202.48 L641.91,202.58 L643.05,202.40 L644.03,202.66 L644.94,202.31 L646.10,202.29 L646.99,201.94 L647.94,202.06 L649.09,202.85 L650.08,203.21 L651.02,203.14 L652.01,202.42 L653.09,203.10 L654.09,202.52 L655.06,202.42 L656.10,203.14 L656.96,203.16 L657.93,201.99 L659.05,202.27 L660.00,202.76 L660.90,202.91 L661.95,202.47 L662.97,202.91 L664.05,202.28 L664.92,202.30 L665.98,201.99 L666.93,202.95 L668.04,203.25 L669.10,203.12 L669.97,202.12 L670.96,202.55 L672.00,202.60" fill="none" stroke="#141414" stroke-width="1.55" stroke-linejoin="round"/>
<line x1="499.8" y1="171" x2="499.8" y2="203" stroke="#111" stroke-width="1.5"/>
<line x1="498.4" y1="203.3" x2="672.4" y2="203.3" stroke="#111" stroke-width="1.4"/>
<line x1="499.0" y1="203.3" x2="499.0" y2="207.10000000000002" stroke="#222" stroke-width="1"/>
<line x1="515.87" y1="203.3" x2="515.87" y2="207.10000000000002" stroke="#222" stroke-width="1"/>
<line x1="532.74" y1="203.3" x2="532.74" y2="207.10000000000002" stroke="#222" stroke-width="1"/>
<line x1="549.61" y1="203.3" x2="549.61" y2="207.10000000000002" stroke="#222" stroke-width="1"/>
<line x1="566.48" y1="203.3" x2="566.48" y2="207.10000000000002" stroke="#222" stroke-width="1"/>
<line x1="583.35" y1="203.3" x2="583.35" y2="207.10000000000002" stroke="#222" stroke-width="1"/>
<line x1="600.22" y1="203.3" x2="600.22" y2="207.10000000000002" stroke="#222" stroke-width="1"/>
<line x1="617.09" y1="203.3" x2="617.09" y2="207.10000000000002" stroke="#222" stroke-width="1"/>
<line x1="633.96" y1="203.3" x2="633.96" y2="207.10000000000002" stroke="#222" stroke-width="1"/>
<line x1="650.83" y1="203.3" x2="650.83" y2="207.10000000000002" stroke="#222" stroke-width="1"/>
<line x1="667.7" y1="203.3" x2="667.7" y2="207.10000000000002" stroke="#222" stroke-width="1"/>
<text transform="translate(567.35,221.2) scale(0.85,1)" x="0.00 8.27 16.43 25.75 30.40" y="0" font-family="Liberation Sans" font-size="13.07" fill="#333" stroke="#333" stroke-width="0.3">FL2-H</text>
<text x="663.1" y="217.6" font-family="Liberation Sans" font-size="10" font-weight="bold" fill="#1e1e1e" textLength="16.2" lengthAdjust="spacingAndGlyphs" >1024</text>
<text x="73.2" y="295.6" font-family="Liberation Sans" font-size="18" font-weight="normal" fill="#111" textLength="21.6" lengthAdjust="spacingAndGlyphs" >(b)</text>
<line x1="184.2" y1="314.9" x2="184.2" y2="443.4" stroke="#7a7a7a" stroke-width="1.2"/>
<line x1="184.2" y1="443.4" x2="188.2" y2="443.4" stroke="#7a7a7a" stroke-width="1"/>
<text x="171.4" y="450.0" font-family="Liberation Serif" font-size="16" font-weight="normal" fill="#595959" textLength="7.4" lengthAdjust="spacingAndGlyphs" text-anchor="end" >0</text>
<line x1="184.2" y1="411.4" x2="188.2" y2="411.4" stroke="#7a7a7a" stroke-width="1"/>
<text x="171.4" y="418.0" font-family="Liberation Serif" font-size="16" font-weight="normal" fill="#595959" textLength="15.4" lengthAdjust="spacingAndGlyphs" text-anchor="end" >20</text>
<line x1="184.2" y1="379.4" x2="188.2" y2="379.4" stroke="#7a7a7a" stroke-width="1"/>
<text x="171.4" y="386.0" font-family="Liberation Serif" font-size="16" font-weight="normal" fill="#595959" textLength="15.4" lengthAdjust="spacingAndGlyphs" text-anchor="end" >40</text>
<line x1="184.2" y1="347.4" x2="188.2" y2="347.4" stroke="#7a7a7a" stroke-width="1"/>
<text x="171.4" y="354.0" font-family="Liberation Serif" font-size="16" font-weight="normal" fill="#595959" textLength="15.4" lengthAdjust="spacingAndGlyphs" text-anchor="end" >60</text>
<line x1="184.2" y1="315.4" x2="188.2" y2="315.4" stroke="#7a7a7a" stroke-width="1"/>
<text x="171.4" y="322.0" font-family="Liberation Serif" font-size="16" font-weight="normal" fill="#595959" textLength="15.4" lengthAdjust="spacingAndGlyphs" text-anchor="end" >80</text>
<line x1="184.2" y1="443.4" x2="487.6" y2="443.4" stroke="#555" stroke-width="1"/>
<line x1="285.0" y1="439.4" x2="285.0" y2="443.4" stroke="#555" stroke-width="1"/>
<line x1="386.3" y1="439.4" x2="386.3" y2="443.4" stroke="#555" stroke-width="1"/>
<line x1="487.4" y1="439.4" x2="487.4" y2="443.4" stroke="#555" stroke-width="1"/>
<rect x="200.30" y="359.2" width="22.5" height="84.20" fill="#9999ff" stroke="#111" stroke-width="1"/>
<rect x="222.80" y="333.1" width="22.5" height="110.30" fill="#993366" stroke="#111" stroke-width="1"/>
<rect x="245.30" y="341.4" width="22.5" height="102.00" fill="#ffffcc" stroke="#111" stroke-width="1"/>
<path d="M211.55,352.75 V365.65 M208.65,352.75 H214.45 M208.65,365.65 H214.45" stroke="#222" stroke-width="1.25" fill="none"/>
<path d="M234.05,326.95 V339.25 M231.15,326.95 H236.95 M231.15,339.25 H236.95" stroke="#222" stroke-width="1.25" fill="none"/>
<path d="M256.55,336.15 V346.65 M253.65,336.15 H259.45 M253.65,346.65 H259.45" stroke="#222" stroke-width="1.25" fill="none"/>
<rect x="301.20" y="376.1" width="22.5" height="67.30" fill="#9999ff" stroke="#111" stroke-width="1"/>
<rect x="323.70" y="407.5" width="22.5" height="35.90" fill="#993366" stroke="#111" stroke-width="1"/>
<rect x="346.20" y="399.6" width="22.5" height="43.80" fill="#ffffcc" stroke="#111" stroke-width="1"/>
<path d="M312.45,371.80 V380.40 M309.55,371.80 H315.35 M309.55,380.40 H315.35" stroke="#222" stroke-width="1.25" fill="none"/>
<path d="M334.95,402.75 V412.25 M332.05,402.75 H337.85 M332.05,412.25 H337.85" stroke="#222" stroke-width="1.25" fill="none"/>
<path d="M357.45,394.75 V404.45 M354.55,394.75 H360.35 M354.55,404.45 H360.35" stroke="#222" stroke-width="1.25" fill="none"/>
<rect x="403.10" y="436.3" width="22.5" height="7.10" fill="#9999ff" stroke="#111" stroke-width="1"/>
<rect x="425.60" y="430.7" width="22.5" height="12.70" fill="#993366" stroke="#111" stroke-width="1"/>
<rect x="448.10" y="430.4" width="22.5" height="13.00" fill="#ffffcc" stroke="#111" stroke-width="1"/>
<path d="M414.35,435.20 V437.40 M411.45,435.20 H417.25 M411.45,437.40 H417.25" stroke="#222" stroke-width="1.25" fill="none"/>
<path d="M436.85,428.45 V432.95 M433.95,428.45 H439.75 M433.95,432.95 H439.75" stroke="#222" stroke-width="1.25" fill="none"/>
<path d="M459.35,428.80 V432.00 M456.45,428.80 H462.25 M456.45,432.00 H462.25" stroke="#222" stroke-width="1.25" fill="none"/>
<line x1="206" y1="292.2" x2="277.2" y2="292.2" stroke="#111" stroke-width="1.8"/>
<path d="M237.7,280.8 V287.59999999999997 M234.7555136271329,282.5 L240.64448637286708,285.9 M234.7555136271329,285.9 L240.64448637286708,282.5" stroke="#111" stroke-width="1.3" fill="none"/>
<path d="M247.3,280.8 V287.59999999999997 M244.35551362713292,282.5 L250.2444863728671,285.9 M244.35551362713292,285.9 L250.2444863728671,282.5" stroke="#111" stroke-width="1.3" fill="none"/>
<line x1="206" y1="311" x2="244.5" y2="311" stroke="#111" stroke-width="1.8"/>
<path d="M225.2,296.6 V303.4 M222.2555136271329,298.3 L228.14448637286708,301.7 M222.2555136271329,301.7 L228.14448637286708,298.3" stroke="#111" stroke-width="1.3" fill="none"/>
<path d="M234.8,296.6 V303.4 M231.85551362713292,298.3 L237.7444863728671,301.7 M231.85551362713292,301.7 L237.7444863728671,298.3" stroke="#111" stroke-width="1.3" fill="none"/>
<line x1="230" y1="324.1" x2="269.2" y2="324.1" stroke="#111" stroke-width="1.8"/>
<path d="M247.5,312.1 V318.9 M244.5555136271329,313.8 L250.4444863728671,317.2 M244.5555136271329,317.2 L250.4444863728671,313.8" stroke="#111" stroke-width="1.3" fill="none"/>
<line x1="308.1" y1="345.5" x2="378.9" y2="345.5" stroke="#111" stroke-width="1.8"/>
<path d="M339.8,337.1 V343.9 M336.8555136271329,338.8 L342.74448637286713,342.2 M336.8555136271329,342.2 L342.74448637286713,338.8" stroke="#111" stroke-width="1.3" fill="none"/>
<line x1="308.1" y1="358.5" x2="339.9" y2="358.5" stroke="#111" stroke-width="1.8"/>
<path d="M320.8,349.3 V356.09999999999997 M317.8555136271329,351.0 L323.74448637286713,354.4 M317.8555136271329,354.4 L323.74448637286713,351.0" stroke="#111" stroke-width="1.3" fill="none"/>
<path d="M330.4,349.3 V356.09999999999997 M327.45551362713286,351.0 L333.3444863728671,354.4 M327.45551362713286,354.4 L333.3444863728671,351.0" stroke="#111" stroke-width="1.3" fill="none"/>
<line x1="333.4" y1="382.5" x2="364.6" y2="382.5" stroke="#111" stroke-width="1.8"/>
<path d="M351.2,366.8 V373.59999999999997 M348.25551362713287,368.5 L354.1444863728671,371.9 M348.25551362713287,371.9 L354.1444863728671,368.5" stroke="#111" stroke-width="1.3" fill="none"/>
<line x1="404.9" y1="399.8" x2="460.7" y2="399.8" stroke="#111" stroke-width="1.8"/>
<path d="M434.2,391.20000000000005 V398.0 M431.25551362713287,392.90000000000003 L437.1444863728671,396.3 M431.25551362713287,396.3 L437.1444863728671,392.90000000000003" stroke="#111" stroke-width="1.3" fill="none"/>
<line x1="429.6" y1="418.4" x2="468.8" y2="418.4" stroke="#111" stroke-width="1.8"/>
<text x="437.4" y="413.8" font-family="Liberation Sans" font-size="9.8" font-weight="bold" fill="#111" textLength="11.2" lengthAdjust="spacingAndGlyphs" stroke="#111" stroke-width="0.3">NS</text>
<rect x="498.6" y="352.7" width="72.6" height="54" fill="#fff" stroke="#555" stroke-width="1"/>
<rect x="505.2" y="358.7" width="6.2" height="5.2" fill="#9999ff" stroke="#222" stroke-width="0.9"/>
<text x="514.8" y="365.6" font-family="Liberation Serif" font-size="13" font-weight="normal" fill="#333" textLength="21.6" lengthAdjust="spacingAndGlyphs" >Flag</text>
<rect x="505.2" y="377.3" width="6.2" height="5.2" fill="#993366" stroke="#222" stroke-width="0.9"/>
<text x="514.8" y="384.20000000000005" font-family="Liberation Serif" font-size="13" font-weight="normal" fill="#333" textLength="50.5" lengthAdjust="spacingAndGlyphs" >Flag-B1-4</text>
<rect x="505.2" y="395.7" width="6.2" height="5.2" fill="#ffffcc" stroke="#222" stroke-width="0.9"/>
<text x="514.8" y="402.6" font-family="Liberation Serif" font-size="13" font-weight="normal" fill="#333" textLength="50.5" lengthAdjust="spacingAndGlyphs" >Flag-B1-5</text>
<text transform="translate(118.2,381.4) rotate(-90)" x="0" y="0" text-anchor="middle" font-family="Liberation Serif" font-size="17" font-weight="normal" fill="#404040" textLength="143.6" lengthAdjust="spacingAndGlyphs" >% of cells with different</text>
<text transform="translate(139.2,381) rotate(-90)" x="0" y="0" text-anchor="middle" font-family="Liberation Serif" font-size="17" font-weight="normal" fill="#404040" textLength="94.5" lengthAdjust="spacingAndGlyphs" >cell cycle phase</text>
<text x="213.4" y="466.4" font-family="Liberation Serif" font-size="16" font-weight="normal" fill="#404040" textLength="42.4" lengthAdjust="spacingAndGlyphs" >Go-G1</text>
<text x="332.8" y="466.7" font-family="Liberation Serif" font-size="16" font-weight="normal" fill="#404040" textLength="7.8" lengthAdjust="spacingAndGlyphs" >S</text>
<text x="419.3" y="466.7" font-family="Liberation Serif" font-size="16" font-weight="normal" fill="#404040" textLength="37.4" lengthAdjust="spacingAndGlyphs" >G2/M</text>
<text x="241.7" y="493.5" font-family="Liberation Serif" font-size="16" font-weight="normal" fill="#404040" textLength="194" lengthAdjust="spacingAndGlyphs" >Post-incubation time (at 48 h)</text>
</svg>
</body></html>
